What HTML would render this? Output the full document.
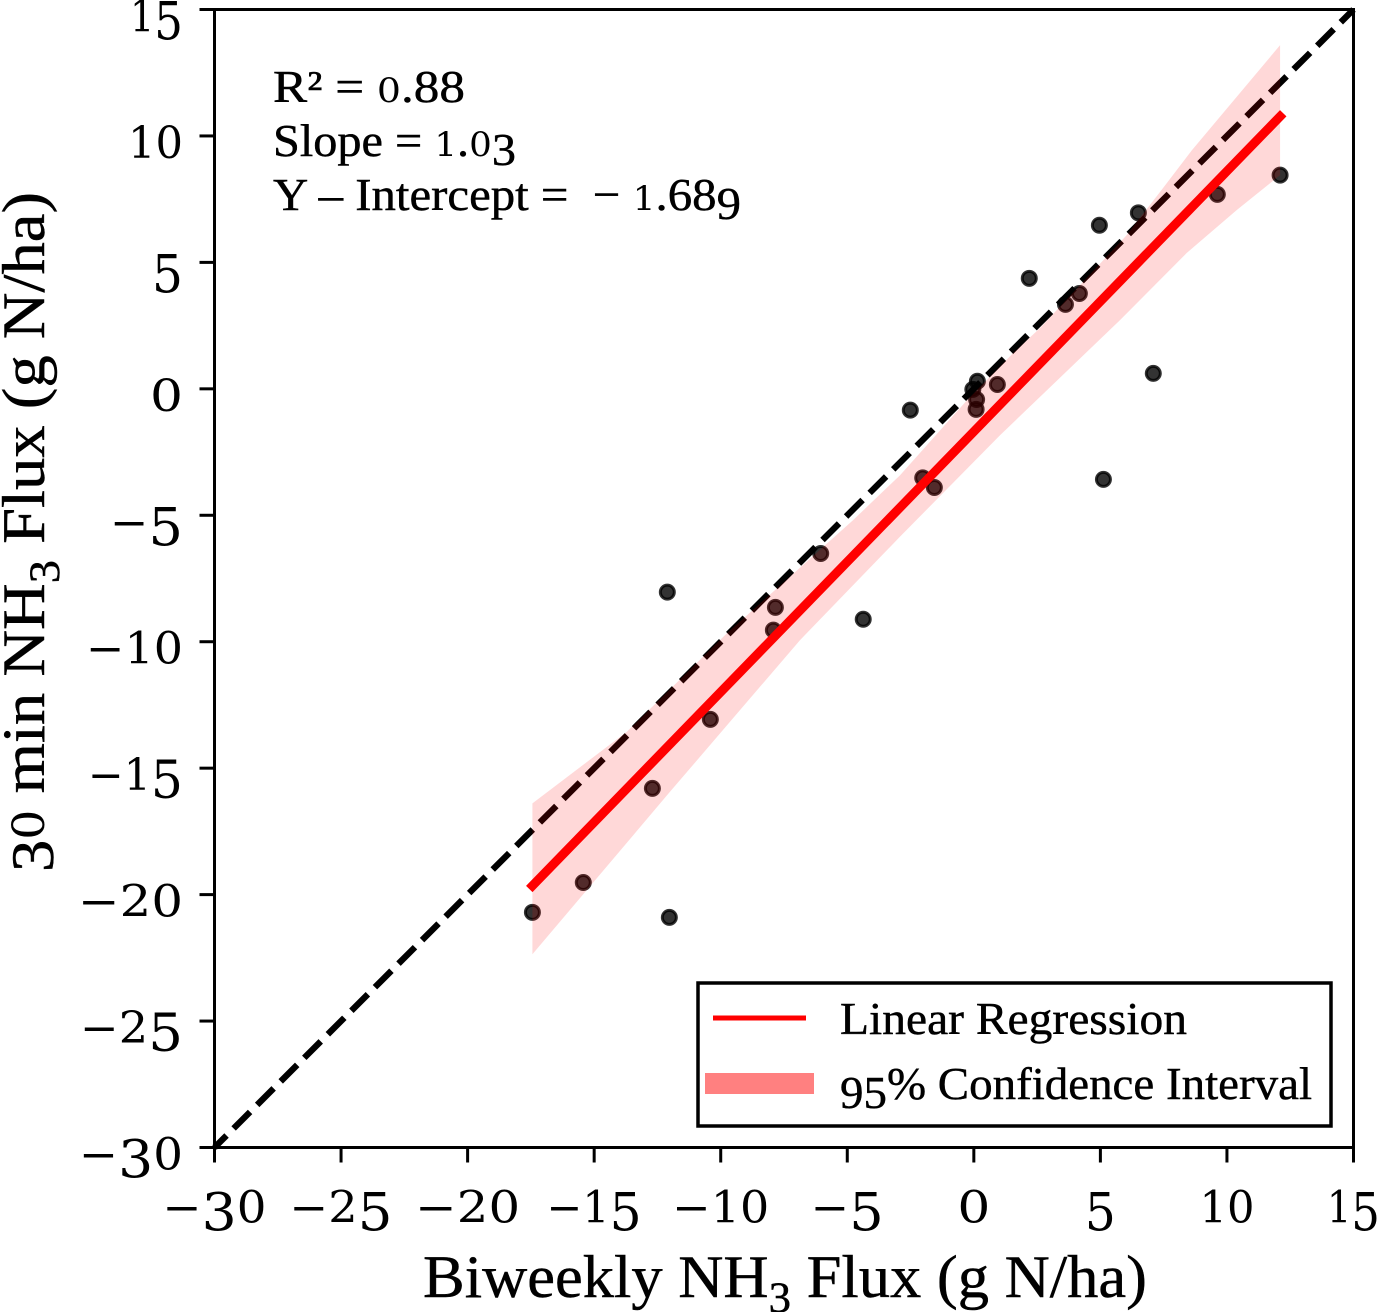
<!DOCTYPE html>
<html lang="en">
<head>
<meta charset="utf-8">
<title>Biweekly vs 30 min NH3 Flux</title>
<style>
html,body{margin:0;padding:0;background:#fff}
svg{display:block}
text{font-family:"Liberation Serif",serif;fill:#000;stroke:#000;stroke-width:.45px}
.tick-text{font-family:"DejaVu Serif",serif;stroke:none}
.low{font-family:"DejaVu Serif",serif;stroke:none}
</style>
</head>
<body>
<svg id="chart" xmlns="http://www.w3.org/2000/svg" width="1378" height="1312" viewBox="0 0 1378 1312">
  <rect x="0" y="0" width="1378" height="1312" fill="#fff"/>
  <g id="marks"></g>
  <rect x="214.5" y="9.5" width="1139" height="1138" fill="none" stroke="#000" stroke-width="3"/>
  <g id="ticks"></g>
  <text x="423" y="1297" font-size="60" textLength="724" lengthAdjust="spacingAndGlyphs">Biweekly NH<tspan font-size="43" dy="15">3</tspan><tspan dy="-15"> Flux (g N/ha)</tspan></text>
  <text transform="translate(44,872) rotate(-90)" font-size="60" textLength="680" lengthAdjust="spacingAndGlyphs"><tspan dy="9">3</tspan><tspan class="low" font-size="44" dy="-9">0</tspan> min NH<tspan font-size="43" dy="15">3</tspan><tspan dy="-15"> Flux (g N/ha)</tspan></text>
  <g>
    <text x="273" y="102" font-size="46" textLength="192" lengthAdjust="spacingAndGlyphs">R² = <tspan class="low" font-size="34">0</tspan>.88</text>
    <text x="273" y="156" font-size="46" textLength="243" lengthAdjust="spacingAndGlyphs">Slope = <tspan class="low" font-size="34">1</tspan>.<tspan class="low" font-size="34">0</tspan><tspan dy="9">3</tspan></text>
    <text x="273" y="210" font-size="46" textLength="468" lengthAdjust="spacingAndGlyphs">Y – Intercept = &#160;− <tspan class="low" font-size="34">1</tspan>.68<tspan dy="9">9</tspan></text>
  </g>
  <g>
    <rect x="698" y="983" width="633" height="143" fill="#fff" stroke="#000" stroke-width="3.5"/>
    <line x1="713" y1="1018" x2="806" y2="1018" stroke="#f00" stroke-width="5"/>
    <rect x="705" y="1073" width="109" height="21" fill="#ff8080"/>
    <text x="840" y="1034" font-size="46" textLength="347" lengthAdjust="spacingAndGlyphs">Linear Regression</text>
    <text x="840" y="1099" font-size="46" textLength="472" lengthAdjust="spacingAndGlyphs"><tspan dy="9">95</tspan><tspan dy="-9">% Confidence Interval</tspan></text>
  </g>
</svg>
<script>
const xTicks = [-30, -25, -20, -15, -10, -5, 0, 5, 10, 15];
const yTicks = [-30, -25, -20, -15, -10, -5, 0, 5, 10, 15];
const pointsX = [12.10, 9.62, 6.50, 4.96, 2.19, 4.17, 3.62, 7.09, 0.14, -0.04, 0.93, 0.11, 0.09, -2.51, 5.12, -2.02, -1.56, -6.05, -12.11, -7.84, -7.92, -4.37, -10.41, -12.70, -15.43, -17.44, -12.03];
const pointsY = [8.45, 7.69, 6.96, 6.47, 4.37, 3.77, 3.34, 0.61, 0.30, -0.02, 0.17, -0.42, -0.81, -0.84, -3.58, -3.52, -3.90, -6.51, -8.04, -8.64, -9.54, -9.11, -13.07, -15.80, -19.52, -20.70, -20.90];
const fitX = [-17.44, 12.10];
const fitY = [-19.65, 10.77];
const identityX = [-30, 15];
const identityY = [-30, 15];
const ciUpperX = [-17.44, -13.71, -9.76, -4.77, -2.92, -0.27, 1.55, 2.61, 6.04, 7.62, 8.61, 12.10];
const ciUpperY = [-16.39, -13.56, -9.67, -5.19, -3.42, -0.45, 1.41, 2.40, 6.08, 8.13, 9.43, 13.59];
const ciLowerX = [-17.44, -12.00, -6.87, -2.92, 1.04, 5.78, 8.41, 10.39, 12.10];
const ciLowerY = [-22.36, -15.93, -9.94, -5.85, -1.83, 2.72, 5.37, 7.07, 8.45];

const NS = 'http://www.w3.org/2000/svg';
const plotLeft = 214.5, plotRight = 1353.5, plotTop = 9.5, plotBottom = 1147.5;
const xMin = -30, xMax = 15, yMin = -30, yMax = 15;
function sx(v) { return plotLeft + (v - xMin) / (xMax - xMin) * (plotRight - plotLeft); }
function sy(v) { return plotBottom - (v - yMin) / (yMax - yMin) * (plotBottom - plotTop); }
function make(tag, attrs) {
  const el = document.createElementNS(NS, tag);
  for (const k in attrs) el.setAttribute(k, attrs[k]);
  return el;
}
const marks = document.getElementById('marks');
const ticks = document.getElementById('ticks');

const identity = make('line', { x1: sx(identityX[0]), y1: sy(identityY[0]), x2: sx(identityX[1]), y2: sy(identityY[1]), stroke: '#000', 'stroke-width': 6.3, 'stroke-dasharray': '23.3 10', 'stroke-dashoffset': 6.3 });


marks.appendChild(identity);

pointsX.forEach(function (x, i) {
  const c = make('circle', { cx: sx(x), cy: sy(pointsY[i]), r: 7, fill: '#000', 'fill-opacity': 0.8, stroke: '#000', 'stroke-opacity': 0.8, 'stroke-width': 3 });
  
  
  marks.appendChild(c);
});

let bandPts = [];
ciUpperX.forEach(function (x, i) { bandPts.push(sx(x) + ',' + sy(ciUpperY[i])); });
for (let i = ciLowerX.length - 1; i >= 0; i--) bandPts.push(sx(ciLowerX[i]) + ',' + sy(ciLowerY[i]));
const band = make('polygon', { points: bandPts.join(' '), fill: '#f00', 'fill-opacity': 0.153 });


marks.appendChild(band);

const fit = make('line', { x1: sx(fitX[0]), y1: sy(fitY[0]), x2: sx(fitX[1]), y2: sy(fitY[1]), stroke: '#f00', 'stroke-width': 9, 'stroke-linecap': 'square' });


marks.appendChild(fit);

const glyphWidth = { '−': 42, '0': 33, '1': 22, '2': 30, '3': 29, '5': 31 };
function fillLabel(textEl, str) {
  let width = 0;
  let prevDy = 0;
  for (const ch of str) {
    width += glyphWidth[ch];
    const tall = ch === '3' || ch === '5';
    const dy = tall ? 8 : 0;
    const t = document.createElementNS(NS, 'tspan');
    t.setAttribute('font-size', tall ? 52 : 44);
    t.setAttribute('dy', dy - prevDy);
    t.textContent = ch;
    textEl.appendChild(t);
    prevDy = dy;
  }
  textEl.setAttribute('textLength', width);
  textEl.setAttribute('lengthAdjust', 'spacingAndGlyphs');
  return width;
}
function labelOf(v) { return v < 0 ? '−' + Math.abs(v) : String(v); }

xTicks.forEach(function (v) {
  const tick = make('line', { x1: sx(v), y1: plotBottom, x2: sx(v), y2: plotBottom + 15, stroke: '#000', 'stroke-width': 3 });
  
  
  ticks.appendChild(tick);
  const label = make('text', { y: plotBottom + 75, class: 'tick-text' });
  
  
  const w = fillLabel(label, labelOf(v));
  label.setAttribute('x', sx(v) - w / 2);
  ticks.appendChild(label);
});
yTicks.forEach(function (v) {
  const tick = make('line', { x1: plotLeft - 15, y1: sy(v), x2: plotLeft, y2: sy(v), stroke: '#000', 'stroke-width': 3 });
  
  
  ticks.appendChild(tick);
  const label = make('text', { y: sy(v) + 22, class: 'tick-text' });
  
  
  const w = fillLabel(label, labelOf(v));
  label.setAttribute('x', 183 - w);
  ticks.appendChild(label);
});
</script>
</body>
</html>
